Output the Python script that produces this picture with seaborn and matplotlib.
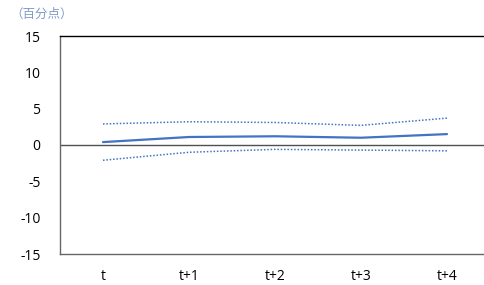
import numpy as np
import pandas as pd
import matplotlib
matplotlib.use("Agg")
import matplotlib.pyplot as plt
import seaborn as sns

# Data
periods = ["t", "t+1", "t+2", "t+3", "t+4"]
central = [0.4, 1.1, 1.2, 1.0, 1.5]
upper = [2.9, 3.2, 3.1, 2.7, 3.7]
lower = [-2.1, -1.0, -0.6, -0.7, -0.8]
yticks = [-15, -10, -5, 0, 5, 10, 15]

df = pd.DataFrame({"period": periods, "central": central, "upper": upper, "lower": lower})
df["x"] = np.arange(len(periods))

sns.set_theme(style="white")
plt.rcParams["font.family"] = ["Open Sans", "Noto Sans CJK SC", "DejaVu Sans"]
plt.rcParams["axes.unicode_minus"] = False

fig = plt.figure(figsize=(4.85, 2.85), dpi=100)
W, H = 485, 285
ax = fig.add_axes([60 / W, (H - 254) / H, 430 / W, (254 - 36) / H])

blue = "#4472C4"
sns.lineplot(data=df, x="x", y="central", ax=ax, color=blue, linewidth=1.6)
sns.lineplot(data=df, x="x", y="upper", ax=ax, color=blue, linewidth=1.1, linestyle=(0, (1, 1.2)))
sns.lineplot(data=df, x="x", y="lower", ax=ax, color=blue, linewidth=1.1, linestyle=(0, (1, 1.2)))

ax.axhline(0, color="#505050", linewidth=1.0, zorder=0)

ax.set_xlim(-0.5, len(periods) - 0.5)
ax.set_ylim(-15, 15)
ax.set_xticks(df["x"])
ax.set_xticklabels(periods)
ax.set_yticks(yticks)
ax.set_xlabel("")
ax.set_ylabel("")
ax.tick_params(axis="both", length=0, labelsize=10, colors="#000000")
ax.tick_params(axis="x", pad=11)
ax.tick_params(axis="y", pad=14)

ax.spines["top"].set_color("#000000")
ax.spines["top"].set_linewidth(1.0)
ax.spines["left"].set_color("#666666")
ax.spines["bottom"].set_color("#666666")
ax.spines["right"].set_visible(False)
for s in ["left", "bottom"]:
    ax.spines[s].set_linewidth(1.0)

fig.text(10 / W, 1 - 14 / H, "（百分点）", fontsize=9, color="#7F9CC8", va="center", ha="left",
         family=["Noto Sans CJK SC", "DejaVu Sans"])

fig.savefig("out.png", dpi=100)
